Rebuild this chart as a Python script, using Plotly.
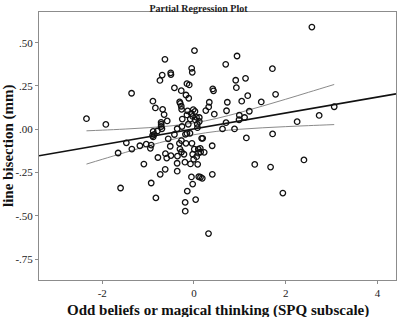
import plotly.graph_objects as go

# Scatter points (partial regression residuals)
x_vals = [2.570, 0.011, 0.939, -0.633, 0.692, -0.050, -0.037, 1.710, -0.507, -0.502,
          -0.692, -0.742, 0.910, 1.124, -0.153, -0.103, -0.426, 0.924, 0.410, 0.426,
          -0.277, -1.360, -0.175, -0.114, 1.172, 1.779, -0.895, -0.312, -0.299, -0.277,
          0.334, 0.727, 1.041, 1.467, -0.841, -0.683, -0.269, -0.138, -0.015, 0.022,
          -0.059, -0.153, -0.028, 0.055, 0.321, 0.258, 0.710, 1.207, 0.443, -0.651,
          0.989, 1.103, 0.983, 3.057, 2.729, -2.343, -0.255, -0.081, 0.028, 0.116,
          0.116, -0.583, -0.716, -0.714, -0.716, -0.699, 0.699, 2.249, -1.921, -0.262,
          -0.124, 0.072, 0.076, -0.365, 0.622, 0.884, -0.889, -0.797, -0.867, -0.902,
          -0.889, -0.426, -0.186, -0.153, -0.087, 0.168, 0.190, -0.561, 1.142, 1.714,
          -1.474, -0.273, -0.317, -0.175, -0.044, 0.397, -1.041, -0.932, -0.950, -1.179,
          -1.354, -0.517, -0.306, -0.273, 0.007, 0.094, 0.138, 0.146, 0.223, 0.098,
          -1.653, -0.622, -0.594, -0.502, -0.360, -0.218, -0.028, 0.059, -0.786, -0.007,
          2.397, -1.092, -0.367, -0.197, -0.076, 0.081, 1.325, 1.670, -0.627, -0.365,
          -0.736, 0.400, -0.055, 0.105, 0.142, 0.181, -0.932, -0.028, -1.600, -0.146,
          1.937, -0.830, 0.037, -0.192, -0.190, 0.317]
y_vals = [0.590, 0.454, 0.423, 0.404, 0.375, 0.352, 0.329, 0.350, 0.326, 0.316,
          0.313, 0.282, 0.283, 0.294, 0.263, 0.256, 0.239, 0.240, 0.233, 0.222,
          0.223, 0.208, 0.198, 0.179, 0.194, 0.202, 0.162, 0.158, 0.149, 0.133,
          0.156, 0.156, 0.162, 0.158, 0.123, 0.115, 0.115, 0.106, 0.114, 0.103,
          0.091, 0.083, 0.074, 0.069, 0.129, 0.108, 0.107, 0.104, 0.087, 0.085,
          0.081, 0.068, 0.055, 0.130, 0.080, 0.061, 0.059, 0.059, 0.054, 0.068,
          0.045, 0.048, 0.040, 0.029, 0.016, 0.003, 0.038, 0.044, 0.028, 0.016,
          0.029, 0.029, 0.009, 0.003, 0.002, 0.002, -0.012, -0.010, -0.029, -0.036,
          -0.044, -0.030, -0.029, -0.024, -0.023, -0.052, -0.052, -0.055, -0.050, -0.027,
          -0.078, -0.065, -0.081, -0.081, -0.081, -0.095, -0.086, -0.091, -0.110, -0.095,
          -0.114, -0.098, -0.114, -0.131, -0.115, -0.115, -0.110, -0.131, -0.133, -0.138,
          -0.137, -0.141, -0.166, -0.152, -0.155, -0.144, -0.144, -0.158, -0.163, -0.173,
          -0.177, -0.201, -0.196, -0.190, -0.200, -0.202, -0.203, -0.218, -0.231, -0.242,
          -0.260, -0.260, -0.275, -0.274, -0.277, -0.283, -0.310, -0.316, -0.339, -0.357,
          -0.368, -0.396, -0.406, -0.422, -0.473, -0.602]

# Fit line (spans the whole axis)
fit_x = [-3.378, 4.404]
fit_y = [-0.1525, 0.2047]

# Confidence band curves
band_x = [-2.343, -2.0, -1.5, -1.0, -0.5, 0.0, 0.5, 1.0, 1.5, 2.0, 2.5, 3.057]
band_upper = [-0.0089, -0.0050, 0.0013, 0.0091, 0.0197, 0.0366, 0.0630, 0.0968,
              0.1344, 0.1735, 0.2137, 0.2587]
band_lower = [-0.2009, -0.1734, -0.1339, -0.0957, -0.0605, -0.0314, -0.0118, 0.0002,
              0.0086, 0.0153, 0.0211, 0.0271]

x_ticks = [-2, 0, 2, 4]
x_ticktext = ["-2", "0", "2", "4"]
y_ticks = [0.5, 0.25, 0.0, -0.25, -0.5, -0.75]
y_ticktext = [".50", ".25", ".00", "-.25", "-.50", "-.75"]

title_text = "Partial Regression Plot"
x_title = "Odd beliefs or magical thinking (SPQ subscale)"
y_title = "line bisection (mm)"

FONT = "Liberation Serif, Times New Roman, serif"

fig = go.Figure()
fig.add_trace(go.Scatter(x=band_x, y=band_upper, mode="lines",
                         line=dict(color="#8a8a8a", width=1, shape="spline"),
                         hoverinfo="skip", showlegend=False))
fig.add_trace(go.Scatter(x=band_x, y=band_lower, mode="lines",
                         line=dict(color="#8a8a8a", width=1, shape="spline"),
                         hoverinfo="skip", showlegend=False))
fig.add_trace(go.Scatter(x=fit_x, y=fit_y, mode="lines",
                         line=dict(color="#111111", width=1.6),
                         hoverinfo="skip", showlegend=False))
fig.add_trace(go.Scatter(x=x_vals, y=y_vals, mode="markers",
                         marker=dict(symbol="circle-open", size=5.5, color="#111111",
                                     line=dict(width=1.3, color="#111111")),
                         showlegend=False))

fig.update_layout(
    width=397, height=317,
    margin=dict(l=39, r=1, t=12, b=37, autoexpand=False),
    paper_bgcolor="white", plot_bgcolor="white",
    font=dict(family=FONT, color="#222222"),
    title=dict(text="<b>" + title_text + "</b>", x=0.5, xref="container",
               y=0.985, yref="container", yanchor="top",
               font=dict(family=FONT, size=10, color="#222222")),
    annotations=[
        dict(text="<b>" + x_title + "</b>", xref="paper", yref="paper",
             x=0.5, y=0, xanchor="center", yanchor="middle", yshift=-30,
             showarrow=False, font=dict(family=FONT, size=15, color="#111111")),
        dict(text="<b>" + y_title + "</b>", xref="paper", yref="paper",
             x=0, y=0.5, xanchor="center", yanchor="middle", xshift=-31,
             textangle=-90, showarrow=False,
             font=dict(family=FONT, size=15, color="#111111")),
    ],
)
fig.update_xaxes(range=[-3.378, 4.404], tickvals=x_ticks, ticktext=x_ticktext,
                 automargin=False,
                 showgrid=False, zeroline=False, showline=True, linecolor="#8c8c8c",
                 linewidth=1, mirror=True, ticks="outside", ticklen=3, tickcolor="#8c8c8c",
                 tickfont=dict(family=FONT, size=11, color="#222222"))
fig.update_yaxes(range=[-0.870, 0.677], tickvals=y_ticks, ticktext=y_ticktext,
                 automargin=False,
                 showgrid=False, zeroline=False, showline=True, linecolor="#8c8c8c",
                 linewidth=1, mirror=True, ticks="outside", ticklen=3, tickcolor="#8c8c8c",
                 tickfont=dict(family=FONT, size=11, color="#222222"))

fig.write_html("out.html", config={"displayModeBar": False},
               post_script="document.body.style.margin='0';")
